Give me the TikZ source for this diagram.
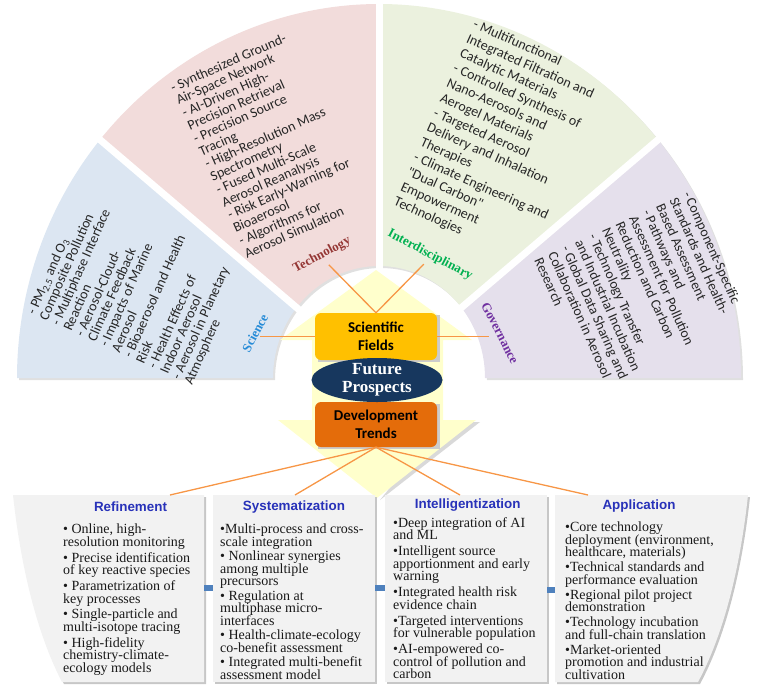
\documentclass[tikz,border=0pt]{standalone}
\usepackage{fontspec}
\setmainfont{Liberation Serif}
\newfontfamily\carlito{Carlito}
\newfontfamily\lsans{Liberation Sans}
\usetikzlibrary{calc,shapes.geometric}
\definecolor{sciC}{RGB}{220,230,242}
\definecolor{techC}{RGB}{242,220,219}
\definecolor{intC}{RGB}{235,241,222}
\definecolor{govC}{RGB}{229,224,236}
\definecolor{paleY}{RGB}{255,255,204}
\definecolor{sfC}{RGB}{255,192,0}
\definecolor{dtC}{RGB}{228,108,10}
\definecolor{navyC}{RGB}{23,55,94}
\definecolor{lineC}{RGB}{247,150,70}
\definecolor{boxC}{RGB}{242,242,242}
\definecolor{headC}{RGB}{40,50,185}
\definecolor{linkC}{RGB}{79,129,189}
\definecolor{sciL}{RGB}{40,140,215}
\definecolor{techL}{RGB}{149,55,53}
\definecolor{intL}{RGB}{0,176,80}
\definecolor{govL}{RGB}{112,48,160}
\newcommand\fansector[4]{\fill[#1] ($#4+(#2:106 and 112)$) -- ($#4+(#2:362 and 374)$) arc[start angle=#2,end angle=#3,x radius=362,y radius=374] -- ($#4+(#3:106 and 112)$) arc[start angle=#3,end angle=#2,x radius=106,y radius=112] -- cycle;}
\begin{document}
\lineskiplimit=-30pt
\lineskip=0pt
\begin{tikzpicture}[x=1pt,y=1pt,
 sectxt/.style={font=\carlito\fontsize{14}{#1}\selectfont, align=left, inner sep=0pt, anchor=north west, text=black!85},
 seclab/.style={font=\bfseries\fontsize{13}{13}\selectfont, inner sep=1pt},
 conn/.style={draw=lineC, line width=1.3pt},
 bodytxt/.style={font=\fontsize{14}{12.5}\selectfont, align=left, inner sep=0pt, anchor=north west, text=black!90},
 headtxt/.style={font=\lsans\bfseries\fontsize{13.4}{14}\selectfont, text=headC, inner sep=0pt},
 link/.style={fill=linkC},
 boxshadow/.style={fill=black!22},
 gbox/.style={fill=boxC},
 ]
\useasboundingbox (0,0) rectangle (770,-696);
\coordinate (C) at (379,-378);
% sector shadows
\fansector{black!12}{180}{140.4}{(381,-380)}
\fansector{black!12}{140.4}{90}{(381,-380)}
\fansector{black!12}{90}{39.6}{(381,-380)}
\fansector{black!12}{39.6}{0}{(381,-380)}
% sectors
\fansector{sciC}{180}{140.4}{(379,-378)}
\fansector{techC}{140.4}{90}{(379,-378)}
\fansector{intC}{90}{39.6}{(379,-378)}
\fansector{govC}{39.6}{0}{(379,-378)}
% gaps
\draw[white, line width=7pt] (C) -- ++(90:390);
\draw[white, line width=7pt] (C) -- ++(139.5:390);
\draw[white, line width=7pt] (C) -- ++(40.5:390);
% sector texts
\node[sectxt=13.2, rotate=66] (scit) at (26.1,-311.9) {- PM\textsubscript{2.5} and O\textsubscript{3}\\Composite Pollution\\- Multiphase Interface\\Reaction\\- Aerosol-Cloud-\\Climate Feedback\\- Impacts of Marine\\Aerosol\\- Bioaerosol and Health\\Risk\\- Health Effects of\\Indoor Aerosol\\- Aerosol in Planetary\\Atmosphere};
\node[sectxt=14, rotate=24] (techt) at (168.9,-83.1) {- Synthesized Ground-\\Air-Space Network\\- AI-Driven High-\\Precision Retrieval\\- Precision Source\\Tracing\\- High-Resolution Mass\\Spectrometry\\- Fused Multi-Scale\\Aerosol Reanalysis\\- Risk Early-Warning for\\Bioaerosol\\- Algorithms for\\Aerosol Simulation};
\node[sectxt=16.2, rotate=-24] (intt) at (476.1,-18.1) {- Multifunctional\\Integrated Filtration and\\Catalytic Materials\\- Controlled Synthesis of\\Nano-Aerosols and\\Aerogel Materials\\- Targeted Aerosol\\Delivery and Inhalation\\Therapies\\- Climate Engineering and\\"Dual Carbon"\\Empowerment\\Technologies};
\node[sectxt=14.8, rotate=-66] (govt) at (691.9,-189.9) {- Component-Specific\\Standards and Health-\\Based Assessment\\- Pathways and\\Assessment for Pollution\\Reduction and Carbon\\Neutrality\\- Technology Transfer\\and Industrial Incubation\\- Global Data Sharing and\\Collaboration in Aerosol\\Research};
% labels
\node[seclab, text=sciL, rotate=62] (scil) at (255,-333) {Science};
\node[seclab, text=techL, rotate=28] (techl) at (322,-255) {Technology};
\node[seclab, text=intL, rotate=-28] (intl) at (430,-255) {Interdisciplinary};
\node[seclab, text=govL, rotate=-63] (govl) at (500,-333) {Governance};
% pale double arrow
\fill[black!15] (443,-422) -- (480,-422) -- (380,-500) -- cycle;
\fill[paleY] (376,-270) -- (472,-340) -- (443,-340) -- (443,-420) -- (476,-420) -- (377,-498) -- (278,-420) -- (312,-420) -- (312,-340) -- (280,-340) -- cycle;
% central nodes
\fill[black!20] (318,-315) rectangle (440,-362);
\fill[black!20] (318,-404) rectangle (440,-449);
\node[fill=sfC, rounded corners=6pt, minimum width=122, minimum height=47, inner sep=0pt, font=\carlito\bfseries\fontsize{15}{18}\selectfont, align=center] (sf) at (376,-336.5) {Scientific\\Fields};
\node[fill=dtC, rounded corners=6pt, minimum width=122, minimum height=45, inner sep=0pt, font=\carlito\bfseries\fontsize{15}{18}\selectfont, align=center] (dt) at (376,-424.5) {Development\\Trends};
% connectors top
\draw[conn, shorten >=5pt] (sf.north) -- (techl.south);
\draw[conn, shorten >=4pt] (sf.north) -- (intl.south);
\draw[conn] (sf.west) -- (sf.west -| scil.south);
\draw[conn, shorten >=6pt] (sf.east) -- (sf.east -| govl.south);
\node[ellipse, fill=navyC, minimum width=131, minimum height=44, inner sep=0pt] (fp) at (377,-380) {};
\node[font=\bfseries\fontsize{17}{18}\selectfont, text=white, align=center, inner sep=0pt] (fpt) at (fp.center) {Future\\Prospects};
% bottom boxes
\fill[boxshadow] (15,-497) -- (206,-497) -- (206,-684) -- (64,-684) .. controls (37,-632) and (22,-562) .. (15,-497) -- cycle;
\fill[boxshadow] (215,-497) rectangle (377,-684);
\fill[boxshadow] (387,-497) rectangle (549,-684);
\fill[boxshadow] (557,-497) -- (750,-497) .. controls (743,-562) and (728,-632) .. (700,-684) -- (557,-684) -- cycle;
\fill[gbox] (13,-495) -- (204,-495) -- (204,-682) -- (62,-682) .. controls (35,-630) and (20,-560) .. (13,-495) -- cycle;
\node[gbox, minimum width=162, minimum height=187, inner sep=0pt] (sysb) at (294,-588.5) {};
\node[gbox, minimum width=162, minimum height=187, inner sep=0pt] (intb) at (466,-588.5) {};
\fill[gbox] (555,-495) -- (748,-495) .. controls (741,-560) and (726,-630) .. (698,-682) -- (555,-682) -- cycle;
\fill[link] (204,-585) rectangle (213,-591);
\fill[link] (375,-585) rectangle (385,-591);
\fill[link] (547,-587) rectangle (555,-593);
% bottom connectors
\coordinate (refT) at (170,-495);
\coordinate (sysT) at (295,-495);
\coordinate (intT) at (460,-495);
\coordinate (appT) at (588,-495);
\draw[conn] (dt.south) -- (refT);
\draw[conn] (dt.south) -- (sysT);
\draw[conn] (dt.south) -- (intT);
\draw[conn] (dt.south) -- (appT);
% headings
\node[headtxt] (refh) at (130.5,-507) {Refinement};
\node[headtxt] (sysh) at (294,-507) {Systematization};
\node[headtxt] (inth) at (467.7,-505) {Intelligentization};
\node[headtxt] (apph) at (639,-506) {Application};
% bodies
\node[bodytxt] (refx) at (63,-524) {• Online, high-\\resolution monitoring\\[3.3pt]• Precise identification\\of key reactive species\\[3.3pt]• Parametrization of\\key processes\\[3.3pt]• Single-particle and\\multi-isotope tracing\\[3.3pt]• High-fidelity\\chemistry-climate-\\ecology models};
\node[bodytxt] (sysx) at (220,-524) {•Multi-process and cross-\\scale integration\\[2pt]• Nonlinear synergies\\among multiple\\precursors\\[2pt]• Regulation at\\multiphase micro-\\interfaces\\[2pt]• Health-climate-ecology\\co-benefit assessment\\[2pt]• Integrated multi-benefit\\assessment model};
\node[bodytxt] (intx) at (393,-517) {•Deep integration of AI\\and ML\\[3.5pt]•Intelligent source\\apportionment and early\\warning\\[3.5pt]•Integrated health risk\\evidence chain\\[3.5pt]•Targeted interventions\\for vulnerable population\\[3.5pt]•AI-empowered co-\\control of pollution and\\carbon};
\node[bodytxt] (appx) at (565,-522) {•Core technology\\deployment (environment,\\healthcare, materials)\\[2.5pt]•Technical standards and\\performance evaluation\\[2.5pt]•Regional pilot project\\demonstration\\[2.5pt]•Technology incubation\\and full-chain translation\\[2.5pt]•Market-oriented\\promotion and industrial\\cultivation};
\end{tikzpicture}
\end{document}
